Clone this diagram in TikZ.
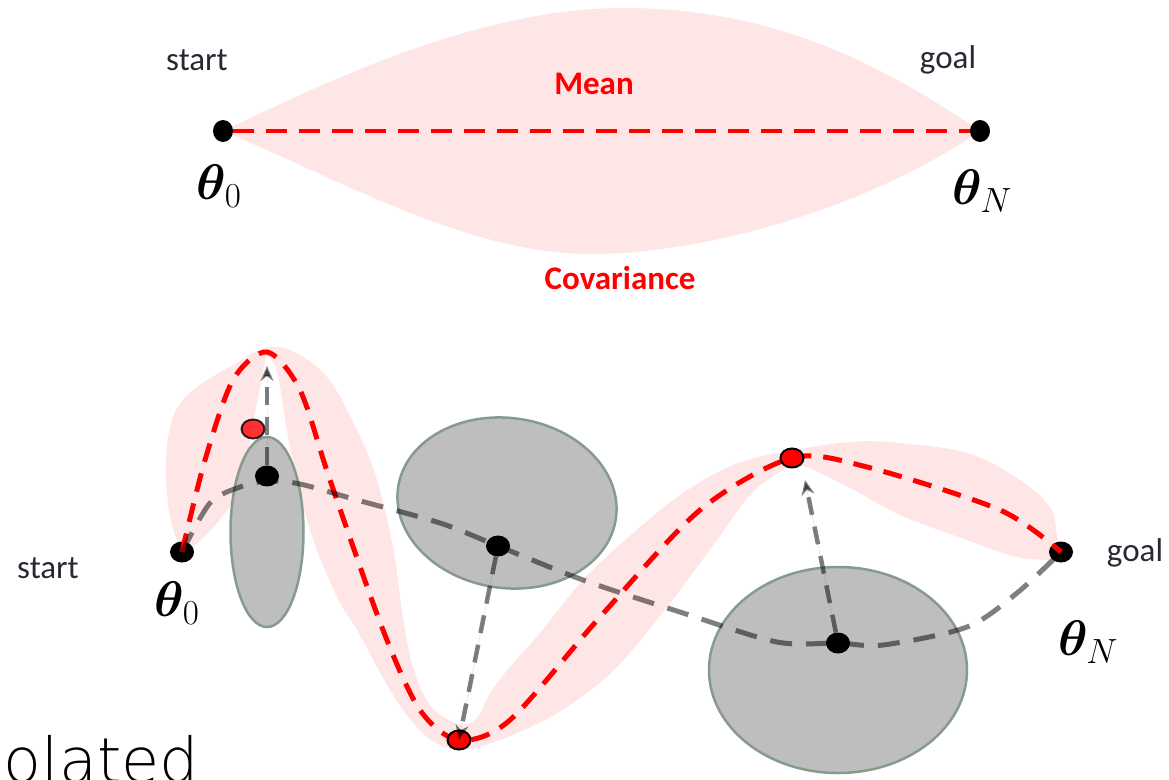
\RequirePackage{fix-cm}
\documentclass[tikz,border=0pt]{standalone}
\usepackage{amsmath,bm}
\usepackage{fontspec}
\setmainfont{Carlito}
\newfontfamily\thinfont{DejaVu Sans ExtraLight}
\usetikzlibrary{arrows.meta,shapes.geometric}
\definecolor{tubepink}{RGB}{255,230,230}
\definecolor{obstgray}{RGB}{190,190,190}
\definecolor{obstedge}{RGB}{135,155,140}
\definecolor{labelgray}{RGB}{40,40,52}

\begin{document}
\begin{tikzpicture}[
  x=1pt,y=-1pt,>=Stealth,
  dot/.style={ellipse,fill=black,inner sep=0pt,minimum width=24pt,minimum height=21pt},
  topdot/.style={dot,minimum width=20pt,minimum height=22pt},
  sample/.style={ellipse,fill=red,draw=black,line width=2pt,inner sep=0pt,
    minimum width=23pt,minimum height=19pt},
  obstacle/.style={ellipse,fill=obstgray,draw=obstedge,line width=2.5pt,inner sep=0pt},
  tube/.style={fill=tubepink},
  meantop/.style={draw=red,line width=3.8pt,dash pattern=on 21pt off 12pt},
  mean/.style={draw=red,line width=5pt,dash pattern=on 19pt off 12pt},
  prior/.style={draw=black,opacity=.5,line width=5pt,dash pattern=on 22pt off 14pt},
  probe/.style={-{Stealth[length=15pt,width=13pt]},draw=black,fill=black,opacity=.5,
    line width=4.5pt,dash pattern=on 18pt off 12pt},
  word/.style={text=labelgray,font=\fontsize{33}{36}\selectfont},
  redword/.style={text=red,font=\fontsize{33}{36}\selectfont\bfseries},
  sym/.style={font=\fontsize{50}{54}\selectfont}
]
\useasboundingbox (0,0) rectangle (1169,779);

% top: straight-line initialisation
\fill[tube] (223,131) .. controls (330,80) and (480,8) .. (624,8)
  .. controls (780,8) and (890,70) .. (980,131)
  .. controls (880,200) and (720,254) .. (589,254)
  .. controls (470,254) and (340,180) .. (223,131) -- cycle;
\node[topdot] (s0) at (223,131) {};
\node[topdot] (g0) at (980,131) {};
\draw[meantop] (s0) -- (g0);
\node[word] (start0) at (197,60) {start};
\node[word] (goal0) at (948,60) {goal};
\node[redword] (meanlbl) at (594,84) {Mean};
\node[redword] (covlbl) at (620,278) {Covariance};
\node[sym] (th0top) at (219,186) {$\bm{\theta}_0$};
\node[sym] (thNtop) at (982,191) {$\bm{\theta}_N$};

% bottom: optimised trajectory around obstacles
\fill[tube] plot[smooth,tension=.6] coordinates {(182,552) (170,517) (166,463) (173,417)
    (193,390) (233,365) (263,349) (290,350) (327,377) (357,430) (377,480) (393,547)
    (403,617) (413,667) (430,705) (458,724) (477,718) (490,693) (510,667) (540,633)
    (583,580) (633,533) (683,493) (733,465) (783,452) (850,442) (900,443) (967,453)
    (1017,478) (1050,507) (1057,535) (1061,552)}
  -- plot[smooth,tension=.6] coordinates {(1055,560) (1017,557) (967,540) (900,515)
    (850,488) (803,466) (783,470) (750,495) (717,540) (667,607) (617,667) (567,707)
    (517,733) (470,749) (440,745) (415,725) (390,690) (357,630) (337,597) (310,530)
    (290,447) (277,372) (266,356)}
  -- plot[smooth,tension=.6] coordinates {(253,423) (240,487) (217,523) (190,550)} -- cycle;

\node[obstacle,minimum width=73pt,minimum height=190pt] (obs1) at (267,532) {};
\node[obstacle,minimum width=220pt,minimum height=170pt,rotate=-8] (obs2) at (507,503) {};
\node[obstacle,minimum width=258pt,minimum height=206pt] (obs3) at (838,670) {};

\node[dot] (s) at (182,552) {};
\node[dot] (g) at (1061,552) {};
\node[dot] (d1) at (267,476) {};
\node[dot] (d2) at (498,546) {};
\node[dot] (d3) at (838,643) {};

\draw[mean] plot[smooth] coordinates {(s.center) (205,460) (233,380) (267,352) (300,390)
  (330,480) (383,630) (420,710) (459,740) (510,720) (600,617) (700,510) (792,458)
  (867,467) (1000,510) (g.center)};

\node[sample,opacity=.8] (r1) at (253,429) {};
\node[sample] (r2) at (459,740) {};
\node[sample] (r3) at (792,458) {};

\draw[prior] plot[smooth] coordinates {(s.center) (210,503) (240,487) (267,481) (300,484)
  (357,500) (440,523) (d2.center) (583,580) (683,613) (777,642) (d3.center) (883,645)
  (967,627) (1017,593) (g.center)};

\coordinate (t1) at (267,366);
\coordinate (t3) at (805,480);
\draw[probe] (d1) -- (t1);
\draw[probe] (d2) -- (r2.center);
\draw[probe] (d3) -- (t3);

\node[word] (start1) at (48,568) {start};
\node[word] (goal1) at (1135,553) {goal};
\node[sym] (th0bot) at (177,603) {$\bm{\theta}_0$};
\node[sym] (thNbot) at (1088,642) {$\bm{\theta}_N$};

\begin{scope}
  \clip (0,0) rectangle (1169,779);
  \node[anchor=base east,inner sep=0pt,font=\thinfont\fontsize{62}{66}\selectfont]
    (interp) at (199,782) {Interpolated};
\end{scope}
\end{tikzpicture}
\end{document}
